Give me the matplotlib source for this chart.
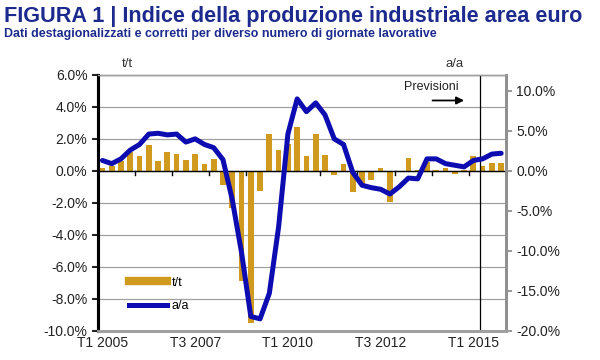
import numpy as np
import matplotlib.pyplot as plt
from matplotlib.lines import Line2D

plt.rcParams['font.family'] = ['Liberation Sans', 'DejaVu Sans']

# Quarterly data, T1 2005 ... T4 2015
tt = [0.2, 0.3, 0.6, 1.2, 0.9, 1.6, 0.6, 1.2, 1.05, 0.7, 1.05, 0.45,
      0.75, -0.9, -2.3, -6.9, -9.5, -1.25, 2.3, 1.3, 1.7, 2.75, 0.9, 2.3,
      1.0, -0.25, 0.4, -1.3, -0.8, -0.6, 0.2, -1.95, -0.05, 0.8, 0.05, 0.55,
      0.05, 0.17, -0.17, 0.05, 0.9, 0.3, 0.5, 0.5]
aa = [1.3, 0.9, 1.5, 2.6, 3.3, 4.6, 4.7, 4.5, 4.6, 3.6, 4.0, 3.3,
      2.9, 1.4, -3.6, -10.2, -18.2, -18.5, -15.3, -7.0, 4.6, 9.0, 7.4, 8.5,
      7.0, 4.0, 3.3, -0.2, -1.8, -2.1, -2.3, -2.9, -2.0, -0.9, -1.0, 1.5,
      1.5, 0.9, 0.7, 0.5, 1.3, 1.5, 2.1, 2.2]
tick_labels = ['T1 2005', 'T3 2007', 'T1 2010', 'T3 2012', 'T1 2015']
forecast_start = 40.7

x = np.arange(len(tt))
gold = '#D09A1E'
blue = '#0C0CB0'
title_blue = '#1C2A8E'

fig = plt.figure(figsize=(6, 3.6), dpi=100)
ax = fig.add_axes([0.163, 0.081, 0.680, 0.711])
ax2 = ax.twinx()

ax.bar(x, tt, width=0.62, color=gold, zorder=3, label='t/t')
ax2.plot(x, aa, color=blue, lw=3.6, solid_capstyle='round', label='a/a', zorder=4)

ax.set_xlim(-0.5, len(tt) - 0.5)
ax.set_ylim(-10, 6)
ax2.set_ylim(-20, 12)
ax.set_yticks(np.arange(-10, 7, 2))
ax.set_yticklabels([f'{v:.1f}%' for v in np.arange(-10, 7, 2)])
ax2.set_yticks(np.arange(-20, 11, 5))
ax2.set_yticklabels([f'{v:.1f}%' for v in np.arange(-20, 11, 5)])

for v in np.arange(-10, 7, 2):
    ax.axhline(v, color='#A0A0A0', lw=0.9, zorder=1)
ax.axhline(0, color='black', lw=1.0, zorder=4)
ax.axvline(forecast_start, color='black', lw=0.9, zorder=5)

# category ticks on the zero line, one per year
for b in np.arange(3.5, len(tt), 4):
    ax.plot([b, b], [0, -0.25], color='black', lw=1.0, zorder=4, clip_on=False)

ax.set_xticks([0, 10, 20, 30, 40])
ax.set_xticklabels(tick_labels)
ax.tick_params(axis='x', length=0, pad=4, labelsize=10, colors='#222222')
ax.tick_params(axis='y', length=4, width=1.5, direction='out', labelsize=10, colors='#222222')
ax2.tick_params(axis='y', length=4, width=1.2, direction='out', labelsize=10,
                colors='#888888', labelcolor='#222222')

for a in (ax, ax2):
    a.spines['top'].set_color('#A0A0A0')
    a.spines['top'].set_linewidth(1.0)
    a.spines['bottom'].set_color('#A0A0A0')
    a.spines['bottom'].set_linewidth(2.0)
    a.spines['right'].set_color('#909090')
    a.spines['right'].set_linewidth(2.0)
    a.spines['left'].set_color('black')
    a.spines['left'].set_linewidth(2.2)

# legend
handles = [Line2D([], [], color=gold, lw=6), Line2D([], [], color=blue, lw=3.6)]
ax2.legend(handles, ['t/t', 'a/a'], loc='lower left', bbox_to_anchor=(0.05, 0.03),
           frameon=False, fontsize=9, handlelength=3.0, handletextpad=0.4,
           labelspacing=0.9)

# forecast annotation
ax2.text(35.5, 10.5, 'Previsioni', fontsize=9, color='#222222', ha='center', va='center')
ax2.annotate('', xy=(39.3, 8.8), xytext=(35.3, 8.8),
             arrowprops=dict(arrowstyle='-|>', color='black', lw=1.3, mutation_scale=11))

fig.text(0.213, 0.815, 't/t', fontsize=9.5, color='#333333', ha='center')
fig.text(0.758, 0.815, 'a/a', fontsize=9.5, color='#333333', ha='center')

fig.text(0.007, 0.955, 'FIGURA 1 | Indice della produzione industriale area euro',
         fontsize=15.6, fontweight='bold', color=title_blue, va='center')
fig.text(0.007, 0.905, 'Dati destagionalizzati e corretti per diverso numero di giornate lavorative',
         fontsize=8.9, fontweight='bold', color=title_blue, va='center')

fig.savefig('out.png', dpi=100)
